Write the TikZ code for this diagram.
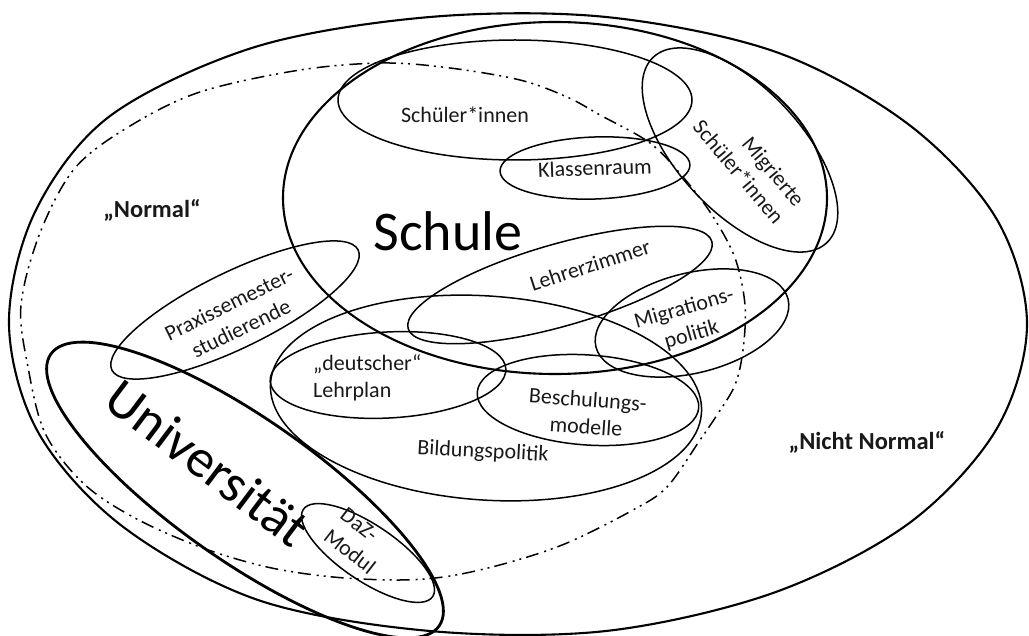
\documentclass[tikz,border=0pt]{standalone}
\usepackage{fontspec}
\setmainfont{Carlito}
\begin{document}
\begin{tikzpicture}[x=1pt,y=-1pt,
  ell/.style={line width=1.5pt},
  bigell/.style={line width=2.1pt},
  uniell/.style={line width=2.8pt},
  dashdotline/.style={line width=1.5pt, dash pattern=on 13pt off 5pt on 2pt off 5pt on 2pt off 6pt},
  lbl/.style={inner sep=0pt, font=\fontsize{22}{27}\selectfont, align=center, text=black!90},
  boldlbl/.style={inner sep=0pt, font=\bfseries\fontsize{24.5}{29}\selectfont, text=black!90},
  biglbl/.style={inner sep=0pt, font=\fontsize{56}{60}\selectfont, text=black}
]
\useasboundingbox (0,0) rectangle (1029,636);

% outer world
\draw[bigell] plot[smooth cycle, tension=0.55] coordinates {
 (1027,324) (996,218) (908,124) (776,52) (606,17) (430,17) (255,47)
 (110,116) (35,212) (9,324) (38,432) (122,526) (258,600) (430,631)
 (606,631) (773,593) (908,524) (996,430)};

% "Normal" boundary (dash-dot)
\draw[dashdotline] plot[smooth cycle, tension=0.55] coordinates {
 (300,70) (383,63) (450,68) (520,80) (567,97) (600,115) (650,143) (683,177)
 (712,215) (735,258) (745,305) (743,350) (735,385) (717,415) (700,440)
 (667,487) (633,510) (567,543) (507,563) (450,576) (400,580) (333,577)
 (267,567) (200,547) (133,517) (83,483) (45,433) (28,367) (21,305)
 (40,233) (75,168) (130,126) (200,92)};

% Schule
\draw[bigell] (555,198) ellipse [x radius=272pt, y radius=176pt];
% Schueler*innen
\draw[ell] (515,100) ellipse [x radius=177pt, y radius=60pt];
% Klassenraum
\draw[ell, rotate around={2:(595,168)}] (595,168) ellipse [x radius=95pt, y radius=31pt];
% Migrierte Schueler*innen
\draw[ell, rotate around={-47:(740,150)}] (740,150) ellipse [x radius=127pt, y radius=62pt];
% Lehrerzimmer
\draw[ell, rotate around={16:(560,285)}] (560,285) ellipse [x radius=158pt, y radius=41pt];
% Migrationspolitik
\draw[ell, rotate around={14:(692,323)}] (692,323) ellipse [x radius=99pt, y radius=50pt];
% Bildungspolitik
\draw[ell, rotate around={-4:(486,398)}] (486,398) ellipse [x radius=216pt, y radius=102pt];
% deutscher Lehrplan
\draw[ell, rotate around={3:(388,375)}] (388,375) ellipse [x radius=118pt, y radius=43pt];
% Beschulungsmodelle
\draw[ell, rotate around={-4:(588,400)}] (588,400) ellipse [x radius=111pt, y radius=45pt];
% Praxissemesterstudierende
\draw[ell, rotate around={26:(235,310)}] (235,310) ellipse [x radius=137pt, y radius=38pt];
% Universitaet
\draw[uniell, rotate around={-35:(245,490)}] (245,490) ellipse [x radius=237pt, y radius=71pt];
% DaZ-Modul
\draw[ell, rotate around={-34:(368,553)}] (368,553) ellipse [x radius=78pt, y radius=28pt];

% labels
\node[boldlbl] (normal) at (152,210) {„Normal“};
\node[boldlbl] (nichtnormal) at (867,442) {„Nicht Normal“};
\node[biglbl] (schule) at (448,231) {Schule};
\node[biglbl, font=\fontsize{54}{58}\selectfont, rotate=-37] (uni) at (208,463) {Universität};
\node[lbl] (schueler) at (465,115) {Schüler*innen};
\node[lbl, rotate=2] (klassen) at (595,168) {Klassenraum};
\node[lbl, rotate=-50, align=right] (migrierte) at (749,163) {Migrierte\\Schüler*innen};
\node[lbl, rotate=18] (lehrer) at (590,265) {Lehrerzimmer};
\node[lbl, rotate=16] (migpol) at (688,322) {Migrations-\\politik};
\node[lbl, align=left, anchor=west] (lehrplan) at (313,378) {„deutscher“\\Lehrplan};
\node[lbl, rotate=-4] (beschul) at (587,413) {Beschulungs-\\modelle};
\node[lbl, rotate=-3] (bildung) at (483,452) {Bildungspolitik};
\node[lbl, rotate=26] (praxis) at (235,316) {Praxissemester-\\studierende};
\node[lbl, rotate=-38, align=left] (daz) at (358,541) {DaZ-\\Modul};
\end{tikzpicture}
\end{document}
